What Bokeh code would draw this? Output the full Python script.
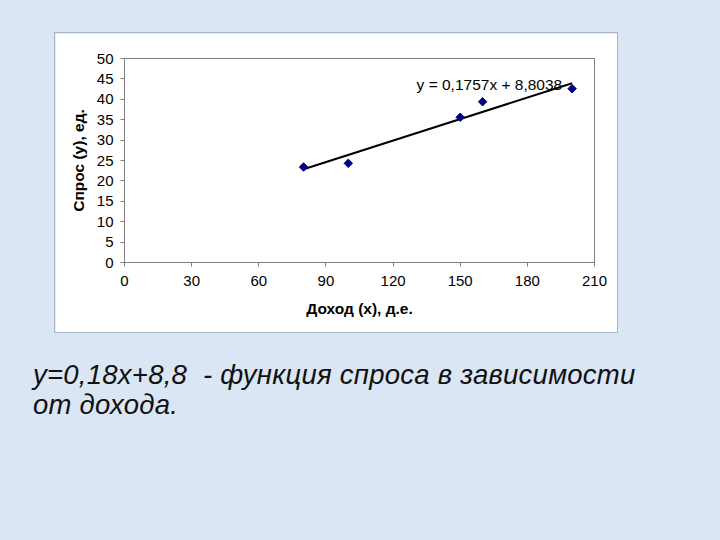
from math import pi
from bokeh.plotting import figure
from bokeh.models import (Range1d, FixedTicker, Label, Div, Column,
                          GlobalInlineStyleSheet)
from bokeh.embed import file_html
from bokeh.resources import INLINE

# ---- data ----
income = [80, 100, 150, 160, 200]
demand = [23.4, 24.3, 35.6, 39.4, 42.6]
trend_slope = 0.1757
trend_intercept = 8.8038
x_ticks = [0, 30, 60, 90, 120, 150, 180, 210]
y_ticks = [0, 5, 10, 15, 20, 25, 30, 35, 40, 45, 50]
x_label = "Доход (x), д.е."
y_label = "Спрос (y), ед."
equation = "y = 0,1757x + 8,8038"
caption_lines = ["y=0,18x+8,8&nbsp; - функция спроса в зависимости", "от дохода."]

FONT = "Liberation Sans"
BG = "#dae6f4"

p = figure(width=564, height=301, output_backend="svg", toolbar_location=None,
           x_range=Range1d(0, 210), y_range=Range1d(0, 50),
           min_border_left=69, min_border_right=25, min_border_top=25,
           min_border_bottom=72, margin=(32, 0, 0, 54),
           background_fill_color="white", border_fill_color="white",
           outline_line_color="#808080", outline_line_width=1,
           styles={"border": "1px solid #a8b6ca", "box-sizing": "border-box"})
p.xgrid.visible = False
p.ygrid.visible = False

for ax, ticks in ((p.xaxis, x_ticks), (p.yaxis, y_ticks)):
    ax.ticker = FixedTicker(ticks=ticks)
    ax.minor_tick_line_color = None
    ax.major_tick_in = 0
    ax.major_tick_out = 4
    ax.major_tick_line_color = "#808080"
    ax.axis_line_color = "#808080"
    ax.major_label_text_font = FONT
    ax.major_label_text_font_size = "15px"
    ax.major_label_text_color = "black"
    ax.axis_label_text_font = FONT
    ax.axis_label_text_font_size = "15.5px"
    ax.axis_label_text_font_style = "bold"
    ax.axis_label_text_color = "black"

p.xaxis.axis_label = x_label
p.yaxis.axis_label = y_label
p.xaxis.major_label_standoff = 9
p.xaxis.axis_label_standoff = 11
p.yaxis.major_label_standoff = 7
p.yaxis.axis_label_standoff = 7

# trend line
tx = [min(income), max(income)]
ty = [trend_intercept + trend_slope * v for v in tx]
p.line(tx, ty, line_color="black", line_width=2)

# data points
p.scatter(income, demand, marker="square", angle=pi / 4, size=6,
          fill_color="#000080", line_color="#000080")

p.add_layout(Label(x=130.5, y=43.7, text=equation, text_font=FONT,
                   text_font_size="15.5px", text_color="black",
                   text_baseline="middle", text_align="left"))

caption = Div(text="<br>".join(caption_lines), margin=(27, 0, 0, 33),
              width=680,
              styles={"font-family": FONT, "font-style": "italic",
                      "font-size": "27.5px", "line-height": "30px",
                      "letter-spacing": "0.25px",
                      "color": "#111111", "white-space": "nowrap"})

root = Column(children=[p, caption], width=712, height=532,
              styles={"background-color": BG},
              stylesheets=[GlobalInlineStyleSheet(
                  css="html, body { background-color: %s; }" % BG)])

open("out.html", "w").write(file_html(root, INLINE))
